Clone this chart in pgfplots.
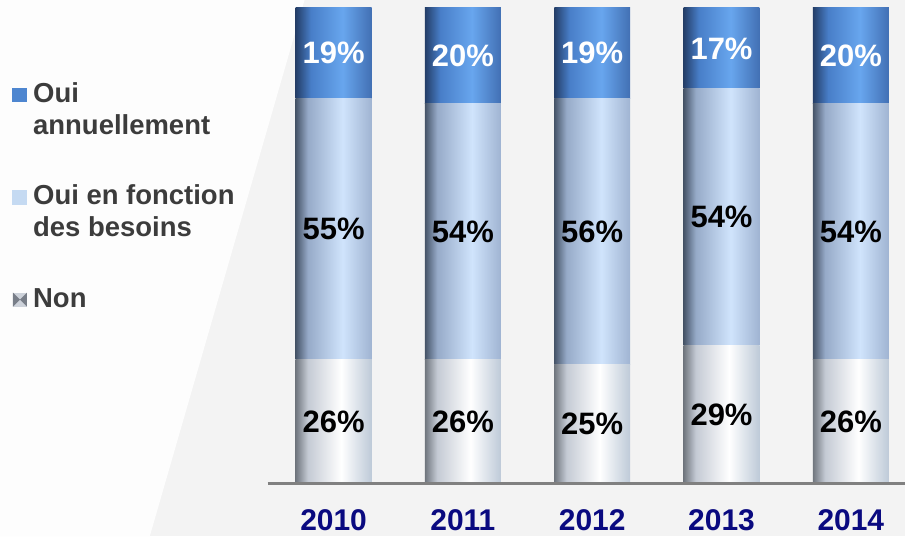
\documentclass[border=0pt]{standalone}
\usepackage{pgfplots}
\pgfplotsset{compat=1.18}
\usepackage{fontspec}
\setmainfont{Liberation Sans}
\definecolor{navy}{RGB}{10,10,128}
\definecolor{legtext}{RGB}{60,60,60}
\definecolor{axisgray}{RGB}{128,128,128}
\definecolor{bgA}{RGB}{243,243,243}
\definecolor{bgB}{RGB}{253,253,253}
% top series: Oui annuellement
\definecolor{tA}{RGB}{36,62,104}
\definecolor{tB}{RGB}{72,126,200}
\definecolor{tC}{RGB}{104,166,238}
\definecolor{tD}{RGB}{66,112,180}
% middle series: Oui en fonction des besoins
\definecolor{mA}{RGB}{70,84,104}
\definecolor{mB}{RGB}{150,170,200}
\definecolor{mC}{RGB}{208,228,252}
\definecolor{mD}{RGB}{160,180,210}
% bottom series: Non
\definecolor{nA}{RGB}{112,118,126}
\definecolor{nB}{RGB}{196,202,212}
\definecolor{nC}{RGB}{255,255,255}
\definecolor{nD}{RGB}{190,202,216}
\definecolor{legTop}{RGB}{78,134,208}
\definecolor{legMid}{RGB}{197,218,242}
\definecolor{legNonA}{RGB}{205,210,218}
\definecolor{legNonB}{RGB}{120,126,136}
\pgfdeclarehorizontalshading{shTop}{100bp}{color(0bp)=(tA); color(25bp)=(tA); color(35bp)=(tB); color(56bp)=(tC); color(75bp)=(tD); color(100bp)=(tD)}
\pgfdeclarehorizontalshading{shMid}{100bp}{color(0bp)=(mA); color(25bp)=(mA); color(33bp)=(mB); color(56bp)=(mC); color(75bp)=(mD); color(100bp)=(mD)}
\pgfdeclarehorizontalshading{shNon}{100bp}{color(0bp)=(nA); color(25bp)=(nA); color(33bp)=(nB); color(55bp)=(nC); color(75bp)=(nD); color(100bp)=(nD)}
\pgfplotsset{
  base/.style={at={(268pt,53pt)}, anchor=south west, scale only axis,
    width=638pt, height=476pt, xmin=-0.51, xmax=4.417, ymin=0, ymax=100, clip=false},
  yearbars/.style={base, hide axis, ybar stacked, bar width=76pt},
  sNon/.style={draw=none, shade, shading=shNon, shading angle=0},
  sMid/.style={draw=none, shade, shading=shMid, shading angle=0},
  sTop/.style={draw=none, shade, shading=shTop, shading angle=0},
  lab/.style={only marks, mark=none, nodes near coords, point meta=explicit symbolic,
    every node near coord/.style={anchor=center, inner sep=0pt, font=\fontsize{31}{37}\selectfont\bfseries, text=#1}},
}
\begin{document}
\begin{tikzpicture}[x=1pt,y=1pt]
\fill[bgA] (0,0) rectangle (906,537);
\fill[bgB] (0,0) -- (150,0) -- (305,537) -- (0,537) -- cycle;
% 2010
\begin{axis}[yearbars]
\addplot[sNon] coordinates {(0,26)};
\addplot[sMid] coordinates {(0,55)};
\addplot[sTop] coordinates {(0,19)};
\end{axis}
% 2011
\begin{axis}[yearbars]
\addplot[sNon] coordinates {(1,26)};
\addplot[sMid] coordinates {(1,54)};
\addplot[sTop] coordinates {(1,20)};
\end{axis}
% 2012
\begin{axis}[yearbars]
\addplot[sNon] coordinates {(2,25)};
\addplot[sMid] coordinates {(2,56)};
\addplot[sTop] coordinates {(2,19)};
\end{axis}
% 2013
\begin{axis}[yearbars]
\addplot[sNon] coordinates {(3,29)};
\addplot[sMid] coordinates {(3,54)};
\addplot[sTop] coordinates {(3,17)};
\end{axis}
% 2014
\begin{axis}[yearbars]
\addplot[sNon] coordinates {(4,26)};
\addplot[sMid] coordinates {(4,54)};
\addplot[sTop] coordinates {(4,20)};
\end{axis}
% axis line, year labels, value labels (at segment centres)
\begin{axis}[base,
  axis x line*=bottom, axis y line=none,
  x axis line style={draw=axisgray, line width=2.5pt},
  xtick={0,1,2,3,4}, xticklabels={2010,2011,2012,2013,2014},
  xtick style={draw=none}, major tick length=0pt,
  xticklabel style={font=\fontsize{30}{36}\selectfont\bfseries, text=navy, anchor=center, yshift=-37pt},
  ytick=\empty,
]
\addplot[lab=black] coordinates {(0,13) [26\%] (1,13) [26\%] (2,12.5) [25\%] (3,14.5) [29\%] (4,13) [26\%]};
\addplot[lab=black] coordinates {(0,53.5) [55\%] (1,53) [54\%] (2,53) [56\%] (3,56) [54\%] (4,53) [54\%]};
\addplot[lab=white] coordinates {(0,90.5) [19\%] (1,90) [20\%] (2,90.5) [19\%] (3,91.5) [17\%] (4,90) [20\%]};
\end{axis}
% legend
\begin{scope}[every node/.style={anchor=base west, inner sep=0pt, text=legtext, font=\fontsize{27.5}{33}\selectfont\bfseries}]
\fill[legTop] (12,435) rectangle (27,449);
\node at (33,434) {Oui};
\node at (33,402) {annuellement};
\fill[legMid] (12,332) rectangle (27,347);
\node at (33,332) {Oui en fonction};
\node at (33,300) {des besoins};
\fill[legNonA] (13,230) rectangle (27,244);
\fill[legNonB] (13,230) -- (20,237) -- (13,244) -- cycle;
\fill[legNonB] (27,230) -- (20,237) -- (27,244) -- cycle;
\node at (33,229) {Non};
\end{scope}
\end{tikzpicture}
\end{document}
